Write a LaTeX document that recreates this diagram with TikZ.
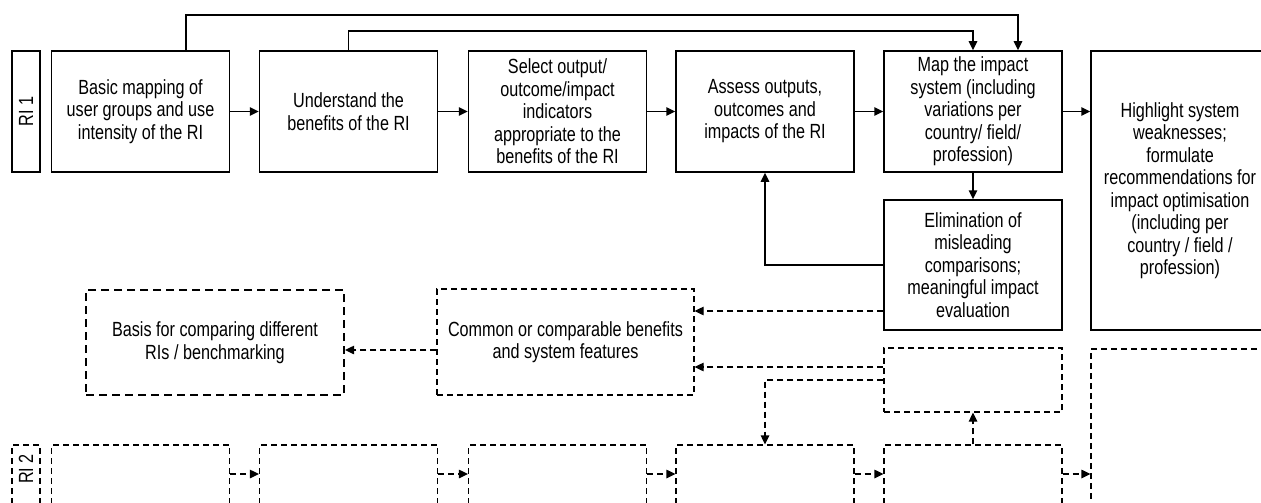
\documentclass[tikz,border=0pt]{standalone}
\usepackage{fontspec}
\setmainfont{Liberation Sans}[FakeStretch=0.79]
\usetikzlibrary{arrows.meta}

\begin{document}
\begin{tikzpicture}[x=1pt,y=-1pt,
    font=\fontsize{20.5}{22.5}\selectfont,
    tip/.style={-{Triangle[length=9pt,width=8.5pt]}},
    solidbox/.style={draw,line width=1.5pt,align=center,inner sep=0pt},
    dashbox/.style={draw,line width=1.2pt,dash pattern=on 6pt off 4pt,align=center,inner sep=0pt},
    stepsize/.style={minimum width=178pt,minimum height=121pt}]

  \useasboundingbox (0,0) rectangle (1261,503);
  \clip (0,0) rectangle (1261,503);

  % RI 1 row
  \begin{scope}[every node/.style={solidbox,stepsize}]
    \node (ri1) at (26,111.5) [rotate=90,minimum width=121pt,minimum height=28pt] {RI 1};
    \node (b1) at (140.5,111.5) {Basic mapping of\\user groups and use\\intensity of the RI};
    \node (b2) at (348.5,111.5) {Understand the\\benefits of the RI};
    \node (b3) at (557.5,111.5) {Select output/\\outcome/impact\\indicators\\appropriate to the\\benefits of the RI};
    \node (b4) at (765,111.5) {Assess outputs,\\outcomes and\\impacts of the RI};
    \node (b5) at (973,111.5) {Map the impact\\system (including\\variations per\\country/ field/\\profession)};
    \node (el) at (973,265) [minimum height=130pt] {Elimination of\\misleading\\comparisons;\\meaningful impact\\evaluation};
    \node (hl) at (1180,190.5) [minimum height=279pt] {Highlight system\\weaknesses;\\formulate\\recommendations for\\impact optimisation\\(including per\\country / field /\\profession)};
  \end{scope}

  % comparison boxes
  \node (bs) at (215,342.5) [dashbox,line width=2.2pt,dash pattern=on 8pt off 5pt,
    minimum width=258pt,minimum height=105pt] {Basis for comparing different\\RIs / benchmarking};
  \node (cm) at (565.5,342) [dashbox,minimum width=257pt,minimum height=106pt]
    {Common or comparable benefits\\and system features};

  % RI 2 row
  \begin{scope}[every node/.style={dashbox,stepsize}]
    \node (sm) at (973,380) [minimum height=64pt] {};
    \node (ri2) at (26,505.5) [minimum width=28pt] {};
    \node (r1) at (140.5,505.5) {};
    \node (r2) at (348.5,505.5) {};
    \node (r3) at (557.5,505.5) {};
    \node (r4) at (765,505.5) {};
    \node (r5) at (973,505.5) {};
    \node (rr) at (1180,474) [minimum height=250pt] {};
  \end{scope}
  \node (ri2t) at (26,469) [rotate=90,inner sep=0pt] {RI 2};

  % solid connectors
  \begin{scope}[every edge/.style={draw,line width=1.5pt,tip}]
    \path (b1) edge (b2);
    \path (b2) edge (b3);
    \path (b3) edge (b4);
    \path (b4) edge (b5);
    \path (b5) edge (el);
  \end{scope}
  \draw[line width=1.5pt,tip] (b5.east) -- (b5.east -| hl.west);
  \draw[line width=1.5pt,tip] ([xshift=45.5pt]b1.north) -- ++(0,-35) -| ([xshift=45pt]b5.north);
  \draw[line width=1.5pt,tip] (b2.north) -- ++(0,-19) -| (b5.north);
  \draw[line width=1.5pt,tip] (el.west) -| (b4.south);

  % dashed connectors
  \begin{scope}[line width=1.2pt,dash pattern=on 6pt off 4pt]
    \draw[tip] (el.west |- 0,311) -- (cm.east |- 0,311);
    \draw[tip] (sm.west |- 0,367) -- (cm.east |- 0,367);
    \draw[tip] (cm.west |- 0,350) -- (bs.east |- 0,350);
    \draw[tip] (sm.west) -| (r4.north);
    \draw[tip] (r5.north) -- (sm.south);
    \foreach \a/\b in {r1/r2,r2/r3,r3/r4,r4/r5,r5/rr}
      \draw[tip] (\a.east |- 0,474) -- (\b.west |- 0,474);
  \end{scope}

\end{tikzpicture}
\end{document}
